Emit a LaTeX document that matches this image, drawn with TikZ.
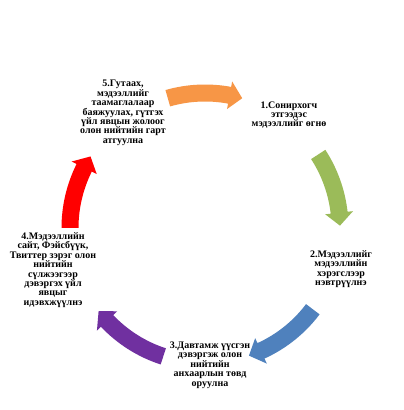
\documentclass[tikz,border=0pt]{standalone}
\usepackage{fontspec}
\setmainfont{Liberation Serif}
\usetikzlibrary{calc}
\definecolor{corange}{HTML}{F79646}
\definecolor{cgreen}{HTML}{9BBB59}
\definecolor{cblue}{HTML}{4F81BD}
\definecolor{cpurple}{HTML}{7030A0}
\definecolor{cred}{HTML}{FF0000}
\newcommand{\cycarrow}[3]{%
  \pgfmathsetmacro\hb{#3+5.5}%
  \fill[#1] ($(C)+(#2:143.5)$) arc[start angle=#2,end angle=\hb,radius=143.5]
    -- ($(C)+(\hb:149)$) -- ($(C)+(#3:135)$) -- ($(C)+(\hb:121)$)
    -- ($(C)+(\hb:126.5)$) arc[start angle=\hb,end angle=#2,radius=126.5] -- cycle;}
\tikzset{lbl/.style={align=center,inner sep=0pt,font=\fontsize{10}{9.4}\selectfont\bfseries}}
\begin{document}
\begin{tikzpicture}[x=1pt,y=1pt]
\useasboundingbox[fill=white] (0,0) rectangle (404,410);
\coordinate (C) at (205,182);
\cycarrow{corange}{106}{74}
\cycarrow{cgreen}{33}{1}
\cycarrow{cblue}{-37}{-71}
\cycarrow{cpurple}{-108}{-142}
\cycarrow{cred}{180}{148}
\node[lbl] (t5) at (123,297) {5.Гутаах,\\мэдээллийг\\таамаглалаар\\баяжуулах, гүтгэх\\үйл явцын жолоог\\олон нийтийн гарт\\атгуулна};
\node[lbl] (t1) at (289,295) {1.Сонирхогч\\этгээдэс\\мэдээллийг өгнө};
\node[lbl] (t2) at (341,141) {2.Мэдээллийг\\мэдээллийн\\хэрэгслээр\\нэвтрүүлнэ};
\node[lbl] (t3) at (210,45) {3.Давтамж үүсгэн\\дэвэргэж олон\\нийтийн\\анхаарлын төвд\\оруулна};
\node[lbl] (t4) at (53,140) {4.Мэдээллийн\\сайт, Фэйсбүүк,\\Твиттер зэрэг олон\\нийтийн\\сүлжээгээр\\дэвэргэх үйл\\явцыг\\идэвхжүүлнэ};
\end{tikzpicture}
\end{document}
